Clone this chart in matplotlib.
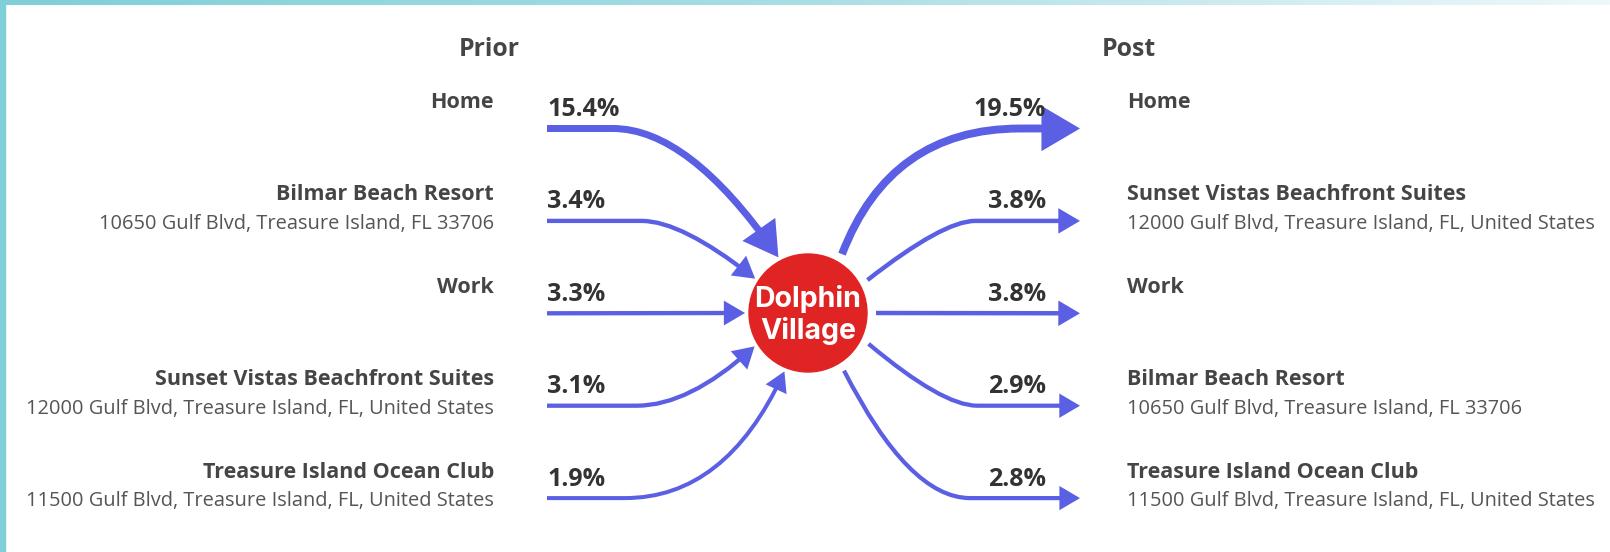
import matplotlib
matplotlib.use("Agg")
import matplotlib.pyplot as plt
import numpy as np
from matplotlib.patches import FancyArrowPatch, Circle, Rectangle
from matplotlib.path import Path

# data
prior_labels = ["Home", "Bilmar Beach Resort", "Work",
                "Sunset Vistas Beachfront Suites", "Treasure Island Ocean Club"]
prior_addresses = ["", "10650 Gulf Blvd, Treasure Island, FL 33706", "",
                   "12000 Gulf Blvd, Treasure Island, FL, United States",
                   "11500 Gulf Blvd, Treasure Island, FL, United States"]
prior_pct = [15.4, 3.4, 3.3, 3.1, 1.9]

post_labels = ["Home", "Sunset Vistas Beachfront Suites", "Work",
               "Bilmar Beach Resort", "Treasure Island Ocean Club"]
post_addresses = ["", "12000 Gulf Blvd, Treasure Island, FL, United States", "",
                  "10650 Gulf Blvd, Treasure Island, FL 33706",
                  "11500 Gulf Blvd, Treasure Island, FL, United States"]
post_pct = [19.5, 3.8, 3.8, 2.9, 2.8]

center_name = "Dolphin\nVillage"

# layout (pixel space)
W, H = 1610, 552
row0, row_step = 128.5, 92.4
cx, cy, rad = 808, 313, 59
left_angles = [118, 147, 180, 212, 248]    # where tips sit on the node
right_angles = [60, 29, 0, -27, -58]       # where tails leave the node
left_dir = [-55, -38, 0, 42, 65]           # travel direction at the tip
right_dir = [69, 38, 0, -40, -63]          # travel direction at the tail
left_bend = [613, 642, 0, 637, 625]        # straight run turns into the curve
right_bend = [1020, 975, 0, 977, 970]
x_left_start, x_right_end = 547, 1080
x_left_text, x_right_text = 494, 1127

arrow_col = "#5B5FE3"
PX = 0.72  # px -> pt at dpi 100

plt.rcParams['font.family'] = ['Open Sans', 'DejaVu Sans']

fig = plt.figure(figsize=(W / 100, H / 100), dpi=100)
ax = fig.add_axes([0, 0, 1, 1])
ax.set_xlim(0, W)
ax.set_ylim(H, 0)
ax.set_axis_off()

# frame: teal strip left, fading strip top
fig.patches.append(Rectangle((0, 0), 5 / W, 1, transform=fig.transFigure,
                             color="#7ECFD8", zorder=0))
grad = np.linspace(0, 1, 256).reshape(1, -1)
gax = fig.add_axes([0, 1 - 5 / H, 1, 5 / H])
gax.imshow(grad, aspect='auto', cmap=matplotlib.colors.LinearSegmentedColormap.from_list(
    "t", ["#7ECFD8", "#A9DEE5", "#EEF8FA"]))
gax.set_axis_off()


def draw_arrow(verts, codes, value):
    w = 3.6 + 0.22 * value
    arr = FancyArrowPatch(path=Path(verts, codes),
                          arrowstyle="-|>,head_length=%.2f,head_width=%.2f" % (3.4 * w * PX, 2.0 * w * PX),
                          lw=w * PX, color=arrow_col,
                          joinstyle='miter', capstyle='butt', zorder=2)
    ax.add_patch(arr)


def ctrl_point(p, phi, y_row):
    # where the line through p heading phi (deg, screen) meets the row
    v = np.array([np.cos(np.deg2rad(phi)), -np.sin(np.deg2rad(phi))])
    t = (y_row - p[1]) / v[1]
    return p + t * v


ys = [row0 + i * row_step for i in range(5)]
C3 = Path.CURVE3

# prior side
for i, (lab, addr, pct) in enumerate(zip(prior_labels, prior_addresses, prior_pct)):
    y = ys[i]
    th = np.deg2rad(left_angles[i])
    tip = np.array([cx + 63 * np.cos(th), cy - 63 * np.sin(th)])
    if left_dir[i] == 0:
        draw_arrow([(x_left_start, y), tip], [Path.MOVETO, Path.LINETO], pct)
    else:
        c = ctrl_point(tip, left_dir[i], y)
        draw_arrow([(x_left_start, y), (left_bend[i], y), c, tip],
                   [Path.MOVETO, Path.LINETO, C3, C3], pct)
    ax.text(x_left_start, y - 19, "%.1f%%" % pct, ha='left', va='center',
            fontsize=18, fontweight='bold', color="#333333")
    ax.text(x_left_text, y - 26, lab, ha='right', va='center',
            fontsize=15.5, fontweight='bold', color="#454545")
    if addr:
        ax.text(x_left_text, y + 3, addr, ha='right', va='center',
                fontsize=14.4, color="#555555")

# post side
for i, (lab, addr, pct) in enumerate(zip(post_labels, post_addresses, post_pct)):
    y = ys[i]
    th = np.deg2rad(right_angles[i])
    start = np.array([cx + 68 * np.cos(th), cy - 68 * np.sin(th)])
    if right_dir[i] == 0:
        draw_arrow([start, (x_right_end, y)], [Path.MOVETO, Path.LINETO], pct)
    else:
        c = ctrl_point(start, right_dir[i], y)
        draw_arrow([start, c, (right_bend[i], y), (x_right_end, y)],
                   [Path.MOVETO, C3, C3, Path.LINETO], pct)
    ax.text(1046, y - 19, "%.1f%%" % pct, ha='right', va='center',
            fontsize=18, fontweight='bold', color="#333333")
    ax.text(x_right_text, y - 26, lab, ha='left', va='center',
            fontsize=15.5, fontweight='bold', color="#454545")
    if addr:
        ax.text(x_right_text, y + 3, addr, ha='left', va='center',
                fontsize=14.4, color="#555555")

# headers
ax.text(489, 49, "Prior", ha='center', va='center', fontsize=17.8,
        fontweight='bold', color="#454545")
ax.text(1129, 49, "Post", ha='center', va='center', fontsize=17.8,
        fontweight='bold', color="#454545")

# centre node
ax.add_patch(Circle((cx, cy), rad, color="#E02424", zorder=3))
ax.text(cx, cy + 2, center_name, ha='center', va='center', fontsize=20.5,
        fontweight='bold', color="white", linespacing=1.2, zorder=4,
        family=['Inter', 'DejaVu Sans'])

fig.savefig("out.png", dpi=100, facecolor="white")
